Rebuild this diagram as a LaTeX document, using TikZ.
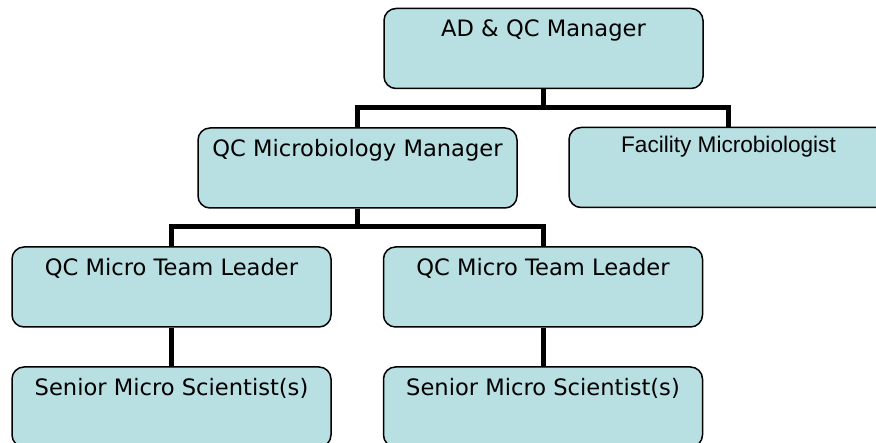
\documentclass[tikz,border=0pt]{standalone}
\usepackage{fontspec}
\setmainfont{DejaVu Sans}
\newfontfamily\arialfont{Liberation Sans}
\definecolor{boxfill}{RGB}{184,223,226}
\begin{document}
\begin{tikzpicture}[x=1pt, y=-1pt,
	rolebox/.style={rectangle, rounded corners=12pt,
		draw=black, line width=1.5pt, fill=boxfill,
		minimum width=319pt, minimum height=80pt, inner sep=0pt,
		text height=28.5pt, text depth=51.5pt,
		font=\fontsize{22.6}{26}\selectfont},
	facbox/.style={rolebox, text height=25pt, text depth=55pt,
		font=\arialfont\fontsize{22.6}{26}\selectfont},
	link/.style={line width=5pt}]
	\clip (0,0) rectangle (876,443);

	\node(ad) [rolebox] at (543.5,48.5) {AD \& QC Manager};
	\node(qcm) [rolebox] at (357.5,168) {QC Microbiology Manager};
	\node(fac) [facbox] at (728.5,167.5) {Facility Microbiologist};
	\foreach \x [count=\s] in {171.5, 543} {
		\node(tl\s) [rolebox] at (\x,287) {QC Micro Team Leader};
		\node(sm\s) [rolebox] at (\x,407) {Senior Micro Scientist(s)};
		\draw[link] (tl\s.south) -- (sm\s.north);
	};

	\coordinate (bus1) at (0,108);
	\coordinate (bus2) at (0,227);
	\draw[link] (ad.south) -- (ad.south |- bus1);
	\draw[link] (qcm.north) -- (qcm.north |- bus1) -- (fac.north |- bus1) -- (fac.north);
	\draw[link] (qcm.south) -- (qcm.south |- bus2);
	\draw[link] (tl1.north) -- (tl1.north |- bus2) -- (tl2.north |- bus2) -- (tl2.north);
\end{tikzpicture}
\end{document}
